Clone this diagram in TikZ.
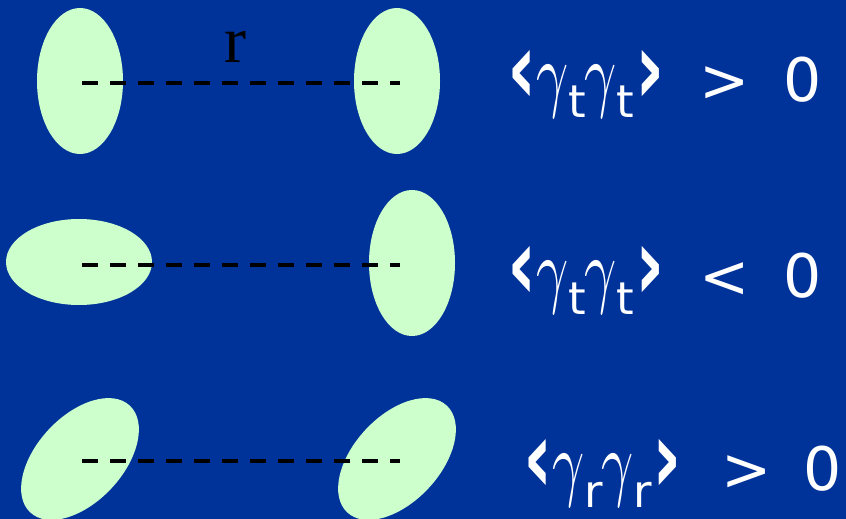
\documentclass[tikz,border=0pt]{standalone}
\usepackage{fontspec}
\usetikzlibrary{shapes.geometric}
\newfontfamily\labfont{DejaVu Sans}
\newfontfamily\labbold{DejaVu Sans Bold}
\newfontfamily\rfont{Liberation Serif}
\definecolor{bg}{HTML}{003399}
\definecolor{blob}{HTML}{CCFFCC}
\tikzset{
  blobv/.style={ellipse, fill=blob, inner sep=0pt, minimum width=86pt, minimum height=146pt},
  blobh/.style={ellipse, fill=blob, inner sep=0pt, minimum width=146pt, minimum height=86pt},
  sep/.style={black, line width=4pt, dash pattern=on 16pt off 12pt},
  lab/.style={text=white, anchor=base west, inner sep=0pt, font=\labfont\fontsize{60}{60}\selectfont},
}
\newcommand{\sbx}[1]{\raisebox{-17pt}{\labfont\fontsize{45}{45}\selectfont #1}\kern-2pt}
\newcommand{\gam}{\scalebox{5.6}[8.4]{\normalsize$\gamma$}}
\newcommand{\lbr}{\raisebox{-2pt}{\scalebox{1.15}[1.65]{\labbold\fontsize{62}{62}\selectfont ‹}}}
\newcommand{\rbr}{\raisebox{-2pt}{\scalebox{1.15}[1.65]{\labbold\fontsize{62}{62}\selectfont ›}}}
\begin{document}
\begin{tikzpicture}[x=1pt,y=-1pt]
\fill[bg] (0,0) rectangle (846,519);
\useasboundingbox (0,0) rectangle (846,519);
% row 1
\node[blobv] (a1) at (80,81) {};
\node[blobv] (b1) at (397,81) {};
\coordinate (l1) at (82,83);
\coordinate (r1) at (400,83);
\draw[sep] (l1) -- (r1);
\node[anchor=base, inner sep=0pt, font=\rfont\fontsize{66}{66}\selectfont] (r) at (235.5,63) {r};
\node[lab] (e1) at (507,101) {\lbr\gam\sbx{t}\gam\sbx{t}\kern3pt\rbr};
\node[lab] (o1) at (699,101) {>};
\node[lab] (z1) at (783,101) {0};
% row 2
\node[blobh] (a2) at (79,262) {};
\node[blobv] (b2) at (412,263) {};
\coordinate (l2) at (82,265);
\coordinate (r2) at (400,265);
\draw[sep] (l2) -- (r2);
\node[lab] (e2) at (507,297) {\lbr\gam\sbx{t}\gam\sbx{t}\kern3pt\rbr};
\node[lab] (o2) at (699,297) {<};
\node[lab] (z2) at (783,297) {0};
% row 3
\node[blobh, rotate=47] (a3) at (80,459) {};
\node[blobh, rotate=47] (b3) at (397,459) {};
\coordinate (l3) at (82,461);
\coordinate (r3) at (400,461);
\draw[sep] (l3) -- (r3);
\node[lab] (e3) at (523,490) {\lbr\gam\sbx{r}\gam\sbx{r}\kern3pt\rbr};
\node[lab] (o3) at (721,490) {>};
\node[lab] (z3) at (803,490) {0};
\end{tikzpicture}
\end{document}
